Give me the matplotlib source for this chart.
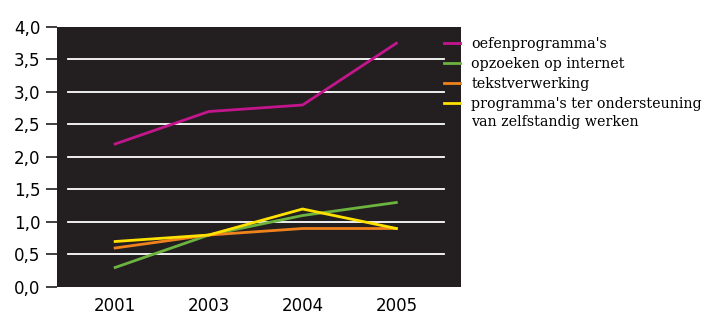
import numpy as np
import matplotlib
matplotlib.use('Agg')
import matplotlib.pyplot as plt

# data
jaren = ['2001', '2003', '2004', '2005']
oefenprogrammas = [2.2, 2.7, 2.8, 3.75]
opzoeken_internet = [0.3, 0.8, 1.1, 1.3]
tekstverwerking = [0.6, 0.8, 0.9, 0.9]
zelfstandig_werken = [0.7, 0.8, 1.2, 0.9]

reeksen = ["oefenprogramma's", 'opzoeken op internet', 'tekstverwerking',
           "programma's ter ondersteuning"]
vervolg_label = 'van zelfstandig werken'
kleuren = ['#c4168c', '#6cb33f', '#f0821e', '#ffe100']

y_ticks = [0, 0.5, 1.0, 1.5, 2.0, 2.5, 3.0, 3.5, 4.0]
y_labels = ['0,0', '0,5', '1,0', '1,5', '2,0', '2,5', '3,0', '3,5', '4,0']

fig = plt.figure(figsize=(7.05, 3.15), dpi=100)
ax = fig.add_axes([0.0809, 0.0889, 0.5730, 0.8254])
ax.set_facecolor('#231f20')

x = np.arange(len(jaren))

# witte rasterlijnen
for y in y_ticks[1:-1]:
    ax.axhline(y, xmin=0.027, xmax=0.958, color='white', lw=1.3, zorder=1)

for data, kleur, naam in zip([oefenprogrammas, opzoeken_internet, tekstverwerking, zelfstandig_werken],
                             kleuren, reeksen):
    ax.plot(x, data, color=kleur, lw=2.0, label=naam, zorder=3)

ax.set_xlim(-0.62, 3.69)
ax.set_ylim(0, 4.0)
ax.set_xticks(x)
ax.set_xticklabels(jaren, fontsize=12, family='DejaVu Sans')
ax.set_yticks(y_ticks)
ax.set_yticklabels(y_labels, fontsize=12, family='DejaVu Sans')
ax.tick_params(axis='x', length=0, pad=7)
ax.tick_params(axis='y', length=8, width=1.2, pad=4, color='#231f20')
for s in ax.spines.values():
    s.set_visible(False)

lfont = {'family': 'DejaVu Serif', 'size': 10.3}
leg = fig.legend(loc='upper left', bbox_to_anchor=(0.630, 0.883), frameon=False,
                 borderpad=0, borderaxespad=0, handlelength=1.1, handletextpad=0.8,
                 labelspacing=0.42, prop=lfont)

# tweede regel van het laatste legendalabel
fig.canvas.draw()
bb = leg.get_texts()[-1].get_window_extent().transformed(fig.transFigure.inverted())
fig.text(bb.x0, bb.y0 - 0.012, vervolg_label, ha='left', va='top', **lfont)

fig.savefig('out.png', dpi=100)
